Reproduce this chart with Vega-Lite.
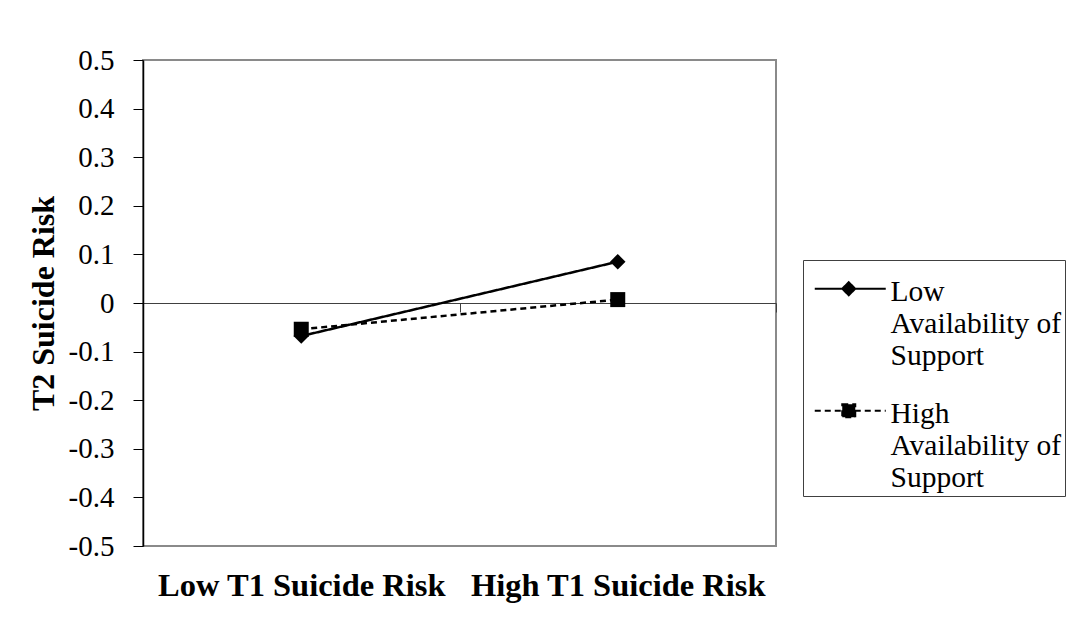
{
  "$schema": "https://vega.github.io/schema/vega-lite/v6.json",
  "width": 633,
  "height": 486,
  "autosize": {"type": "none"},
  "padding": {"left": 143, "top": 60, "right": 297, "bottom": 91},
  "background": "white",
  "config": {
    "font": "Liberation Serif",
    "view": {"stroke": "#8a8a8a", "strokeWidth": 2},
    "axis": {"grid": false},
    "style": {"guide-label": {"lineHeight": 32}},
    "legend": {
      "orient": "none",
      "legendX": 660,
      "legendY": 200,
      "strokeColor": "#404040",
      "padding": 3,
      "symbolSize": 400,
      "symbolStrokeWidth": 2,
      "labelFont": "Liberation Serif",
      "labelFontSize": 29.5,
      "labelColor": "black",
      "labelOffset": 55,
      "labelLimit": 0,
      "rowPadding": 14,
      "labelBaseline": "top"
    }
  },
  "data": {
    "values": [
      {"risk": "Low T1 Suicide Risk", "support": "Low Availability of Support", "value": -0.068},
      {"risk": "High T1 Suicide Risk", "support": "Low Availability of Support", "value": 0.085},
      {"risk": "Low T1 Suicide Risk", "support": "High Availability of Support", "value": -0.054},
      {"risk": "High T1 Suicide Risk", "support": "High Availability of Support", "value": 0.007}
    ]
  },
  "encoding": {
    "x": {
      "field": "risk",
      "type": "nominal",
      "sort": ["Low T1 Suicide Risk", "High T1 Suicide Risk"],
      "bandPosition": 0.5,
      "scale": {"type": "band", "paddingInner": 0, "paddingOuter": 0},
      "axis": {
        "orient": "bottom",
        "offset": -243,
        "title": null,
        "domain": true,
        "domainColor": "#404040",
        "domainWidth": 1,
        "ticks": true,
        "tickBand": "extent",
        "tickSize": 9,
        "tickColor": "#404040",
        "tickWidth": 1,
        "labelPadding": 257,
        "labelAngle": 0,
        "labelLimit": 0,
        "labelFont": "Liberation Serif",
        "labelFontSize": 32.5,
        "labelFontWeight": "bold",
        "labelColor": "black"
      }
    },
    "y": {
      "field": "value",
      "type": "quantitative",
      "scale": {"domain": [-0.5, 0.5], "nice": false, "zero": false},
      "axis": {
        "values": [-0.5, -0.4, -0.3, -0.2, -0.1, 0, 0.1, 0.2, 0.3, 0.4, 0.5],
        "labelExpr": "datum.value == 0 ? '0' : (datum.value < 0 ? '-' + format(-datum.value, '.1f') : format(datum.value, '.1f'))",
        "title": "T2 Suicide Risk",
        "titleFont": "Liberation Serif",
        "titleFontSize": 32,
        "titleFontWeight": "bold",
        "titleColor": "black",
        "titlePadding": 8,
        "domainColor": "black",
        "domainWidth": 1.5,
        "tickColor": "black",
        "tickWidth": 1,
        "tickSize": 10,
        "labelPadding": 19,
        "labelFont": "Liberation Serif",
        "labelFontSize": 29,
        "labelColor": "black"
      }
    }
  },
  "layer": [
    {
      "transform": [{"filter": "false"}],
      "mark": {"type": "point", "filled": true, "color": "black", "stroke": "black", "strokeWidth": 2, "opacity": 1},
      "encoding": {
        "shape": {
          "field": "support",
          "type": "nominal",
          "scale": {
            "domain": ["Low Availability of Support", "High Availability of Support"],
            "range": [
              "M-0.6,1.1L6.5,1.1M2.8,0.45L3.45,1.1L2.8,1.75L2.15,1.1Z",
              "M-0.6,1.1L6.5,1.1M2.15,0.45L3.45,0.45L3.45,1.75L2.15,1.75Z"
            ]
          },
          "legend": {
            "title": null,
            "labelExpr": "indexof(datum.label, 'Low') == 0 ? ['Low', 'Availability of', 'Support'] : ['High', 'Availability of', 'Support']"
          }
        }
      }
    },
    {
      "mark": {"type": "line", "color": "black", "strokeWidth": 2.5},
      "encoding": {
        "strokeDash": {
          "field": "support",
          "type": "nominal",
          "scale": {"domain": ["Low Availability of Support", "High Availability of Support"], "range": [[1, 0], [6, 4]]},
          "legend": {
            "title": null,
            "labelExpr": "indexof(datum.label, 'Low') == 0 ? ['Low', 'Availability of', 'Support'] : ['High', 'Availability of', 'Support']"
          }
        }
      }
    },
    {
      "transform": [{"filter": "datum.support == 'Low Availability of Support'"}],
      "mark": {"type": "point", "filled": true, "color": "black", "opacity": 1, "size": 240, "shape": "diamond"}
    },
    {
      "transform": [{"filter": "datum.support == 'High Availability of Support'"}],
      "mark": {"type": "point", "filled": true, "color": "black", "opacity": 1, "size": 225, "shape": "square"}
    }
  ]
}
